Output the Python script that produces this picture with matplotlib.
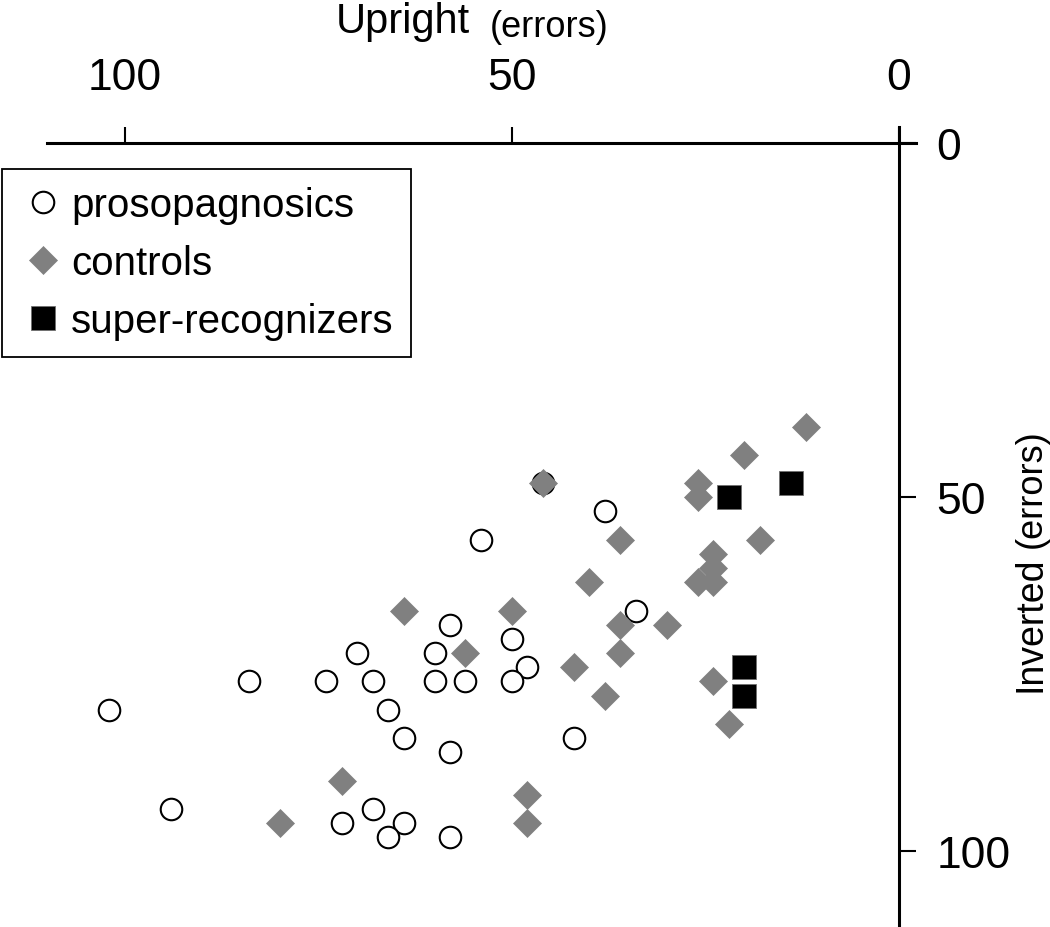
import matplotlib
matplotlib.use('Agg')
import matplotlib.pyplot as plt

plt.rcParams['font.family'] = ['Liberation Sans', 'DejaVu Sans']

# ---- data (errors) ----
pros_upright = [46, 54, 38, 58, 50, 70, 60, 48, 84, 74, 68, 60, 56, 50,
                102, 66, 64, 42, 58, 94, 68, 72, 64, 66, 58, 34]
pros_inverted = [48, 56, 52, 68, 70, 72, 72, 74, 76, 76, 76, 76, 76, 76,
                 80, 80, 84, 84, 86, 94, 94, 96, 96, 98, 98, 66]

ctrl_upright = [46, 64, 50, 56, 42, 72, 48, 80, 48, 12, 20, 26, 26, 36,
                18, 24, 24, 26, 24, 40, 36, 30, 36, 24, 38, 22]
ctrl_inverted = [48, 66, 66, 72, 74, 90, 92, 96, 96, 40, 44, 48, 50, 56,
                 56, 58, 60, 62, 62, 62, 68, 68, 72, 76, 78, 82]

super_upright = [14, 22, 20, 20]
super_inverted = [48, 50, 74, 78]

x_ticks = [100, 50, 0]
y_ticks = [0, 50, 100]

W, H = 1050, 928


def fx(px):
    return px / W


def fy(py):
    return 1 - py / H


fig = plt.figure(figsize=(W / 100, H / 100), dpi=100)
ax = fig.add_axes([fx(46.7), fy(926), fx(916) - fx(46.7), fy(128) - fy(926)])

ax.plot(pros_upright, pros_inverted, linestyle='none', marker='o', ms=15.5,
        mfc='white', mec='black', mew=1.5, label='prosopagnosics', zorder=3)
ax.plot(ctrl_upright, ctrl_inverted, linestyle='none', marker='D', ms=14,
        mfc='#808080', mec='#808080', mew=0.5, label='controls', zorder=4)
ax.plot(super_upright, super_inverted, linestyle='none', marker='s', ms=17,
        mfc='black', mec='#707070', mew=0.6, label='super-recognizers', zorder=5)

ax.set_xlim(110.1, -2.2)
ax.set_ylim(110.4, -2.3)

for s in ['left', 'bottom']:
    ax.spines[s].set_visible(False)
ax.spines['top'].set_position(('data', 0))
ax.spines['right'].set_position(('data', 0))
for s in ['top', 'right']:
    ax.spines[s].set_linewidth(2.2)

ax.xaxis.tick_top()
ax.yaxis.tick_right()
ax.set_xticks(x_ticks)
ax.set_yticks(y_ticks)
ax.tick_params(axis='x', length=11.5, width=1.5, pad=21, labelsize=32)
ax.tick_params(axis='y', length=12, width=1.5, pad=15, labelsize=32)

# axis titles (big word + small unit)
fig.text(fx(336), fy(33), 'Upright', fontsize=30, ha='left', va='baseline')
fig.text(fx(490), fy(37), '(errors)', fontsize=26, ha='left', va='baseline')
fig.text(fx(1040), fy(692), 'Inverted', fontsize=27, rotation=90,
         rotation_mode='anchor', ha='left', va='baseline')
fig.text(fx(1041), fy(548), '(errors)', fontsize=26, rotation=90,
         rotation_mode='anchor', ha='left', va='baseline')

leg = ax.legend(loc='upper left', bbox_to_anchor=(fx(2), fy(170)),
                bbox_transform=fig.transFigure, borderaxespad=0,
                fontsize=29, frameon=True, fancybox=False, edgecolor='black',
                framealpha=1, handlelength=1.2, handletextpad=0.1,
                borderpad=0.42, labelspacing=0.5)
leg.get_frame().set_linewidth(1.3)

fig.savefig('out.png', dpi=100)
